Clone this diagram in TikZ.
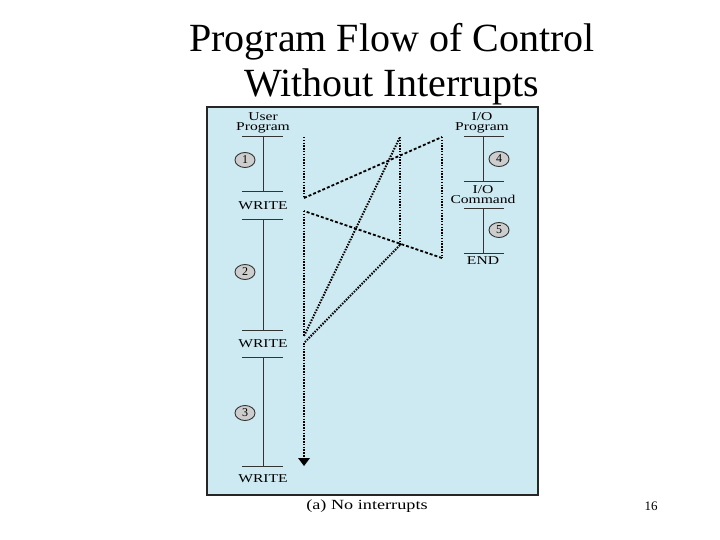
\documentclass[tikz,border=0pt]{standalone}
\usepackage{fontspec}
\usetikzlibrary{shapes.geometric}
\setmainfont{Liberation Serif}
\newfontfamily\wide[FakeStretch=1.3]{Liberation Serif}
\definecolor{panel}{RGB}{205,233,241}
\definecolor{cgray}{RGB}{205,205,205}
\begin{document}
\begin{tikzpicture}[x=1pt,y=-1pt,
  lbl/.style={font=\wide\fontsize{12}{11}\selectfont, inner sep=0pt, align=center},
  bar/.style={line width=1pt, draw=black!80},
  num/.style={ellipse, draw=black!80, fill=cgray, line width=0.9pt, minimum width=20pt, minimum height=15pt, inner sep=0pt, font=\fontsize{12}{12}\selectfont},
  dots/.style={line width=2pt, dash pattern=on 1.5pt off 1.3pt},
  dsh/.style={line width=1.8pt, dash pattern=on 3pt off 2pt}]
\useasboundingbox (0,0) rectangle (720,540);
\node[font=\fontsize{40}{40}\selectfont] (t1) at (392,42) {Program Flow of Control};
\node[font=\fontsize{40}{40}\selectfont] (t2) at (392,87) {Without Interrupts};
\draw[fill=panel, line width=2pt, draw=black!85] (207,107) rectangle (538,495);
% user program
\node[lbl] (up) at (263,123) {User\\[-1pt]Program};
\draw[bar] (242,137) -- (283,137);
\draw[bar] (263,137) -- (263,192);
\draw[bar] (242,192) -- (283,192); \node[lbl] (w1) at (263,206) {WRITE};
\draw[bar] (242,220) -- (283,220);
\draw[bar] (263,220) -- (263,330);
\draw[bar] (242,330) -- (283,330); \node[lbl] (w2) at (263,344) {WRITE};
\draw[bar] (242,357) -- (283,357);
\draw[bar] (263,357) -- (263,466);
\draw[bar] (242,466) -- (283,466); \node[lbl] (w3) at (263,479) {WRITE};
\node[num] (n1) at (245,160) {1};
\node[num] (n2) at (245,272) {2};
\node[num] (n3) at (245,413) {3};
% I/O program
\node[lbl] (iop) at (482,123) {I/O\\[-1pt]Program};
\draw[bar] (464,137) -- (504,137);
\draw[bar] (483,137) -- (483,182);
\draw[bar] (464,182) -- (504,182);
\node[lbl] (ioc) at (483,195) {I/O\\[-1pt]Command};
\draw[bar] (464,209) -- (504,209);
\draw[bar] (483,209) -- (483,253);
\draw[bar] (464,253) -- (504,253);
\node[lbl] (end) at (483,261) {END};
\node[num] (n4) at (499,159) {4};
\node[num] (n5) at (499,230) {5};
% flow
\coordinate (a0) at (304,137);
\coordinate (a1) at (304,198);
\coordinate (b0) at (442,137);
\coordinate (b1) at (442,258);
\coordinate (a2) at (304,211);
\coordinate (a3) at (304,336);
\coordinate (c0) at (400,137);
\coordinate (c1) at (400,245);
\coordinate (a4) at (304,343);
\coordinate (a5) at (304,466);
\coordinate (a6) at (304,458);
\draw[dots] (a0) -- (a1);
\draw[dsh] (a1) -- (b0);
\draw[dots] (b0) -- (b1);
\draw[dsh] (b1) -- (a2);
\draw[dots] (a2) -- (a3);
\draw[dots] (a3) -- (c0);
\draw[dots] (c0) -- (c1);
\draw[dots] (c1) -- (a4);
\draw[dots] (a4) -- (a6);
\fill (298,458) -- (310,458) -- (a5) -- cycle;
\node[font=\wide\fontsize{14}{14}\selectfont] (cap) at (367,506) {(a) No interrupts};
\node[font=\fontsize{13}{13}\selectfont] (pg) at (651,506) {16};
\end{tikzpicture}
\end{document}
